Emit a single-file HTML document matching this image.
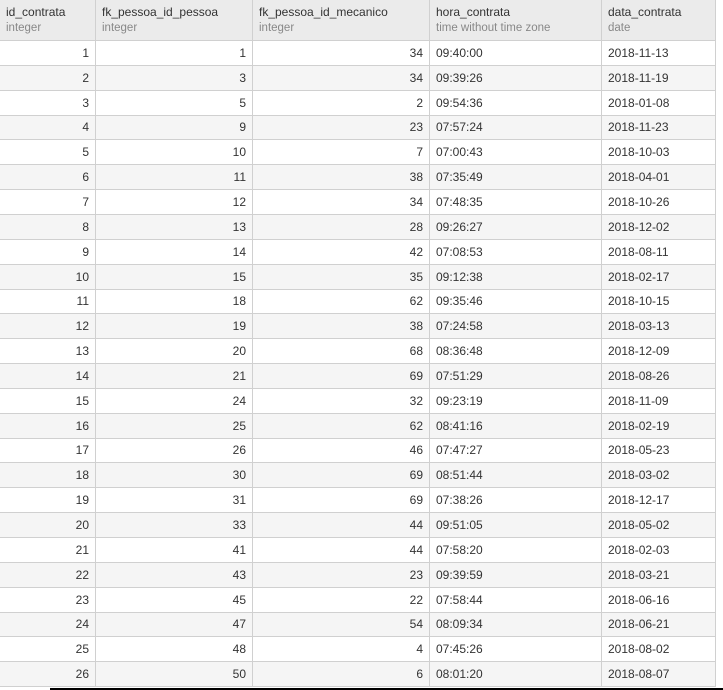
<!DOCTYPE html>
<html><head><meta charset="utf-8"><style>
body{margin:0;width:723px;height:690px;background:#fff;overflow:hidden;position:relative;font-family:"Liberation Sans",sans-serif;font-size:12px;color:#333}
.c{position:absolute;box-sizing:border-box;border-right:1px solid #d0d0d0;border-bottom:1px solid #d0d0d0;white-space:nowrap;overflow:hidden}
.h{background:#ebebeb;padding:4px 6px;line-height:16px;top:0;height:41px}
.h span{display:block;color:#888;font-size:11.5px}
.r{padding:0 6px;line-height:24px}
.num{text-align:right}
</style></head><body>
<script>
const cols=[[0,96,'id_contrata','integer'],[96,253,'fk_pessoa_id_pessoa','integer'],[253,430,'fk_pessoa_id_mecanico','integer'],[430,602,'hora_contrata','time without time zone'],[602,716,'data_contrata','date']];
const rows=[[1,1,34,'09:40:00','2018-11-13'],[2,3,34,'09:39:26','2018-11-19'],[3,5,2,'09:54:36','2018-01-08'],[4,9,23,'07:57:24','2018-11-23'],[5,10,7,'07:00:43','2018-10-03'],[6,11,38,'07:35:49','2018-04-01'],[7,12,34,'07:48:35','2018-10-26'],[8,13,28,'09:26:27','2018-12-02'],[9,14,42,'07:08:53','2018-08-11'],[10,15,35,'09:12:38','2018-02-17'],[11,18,62,'09:35:46','2018-10-15'],[12,19,38,'07:24:58','2018-03-13'],[13,20,68,'08:36:48','2018-12-09'],[14,21,69,'07:51:29','2018-08-26'],[15,24,32,'09:23:19','2018-11-09'],[16,25,62,'08:41:16','2018-02-19'],[17,26,46,'07:47:27','2018-05-23'],[18,30,69,'08:51:44','2018-03-02'],[19,31,69,'07:38:26','2018-12-17'],[20,33,44,'09:51:05','2018-05-02'],[21,41,44,'07:58:20','2018-02-03'],[22,43,23,'09:39:59','2018-03-21'],[23,45,22,'07:58:44','2018-06-16'],[24,47,54,'08:09:34','2018-06-21'],[25,48,4,'07:45:26','2018-08-02'],[26,50,6,'08:01:20','2018-08-07']];
const rowTop=41,rowH=24.85;
cols.forEach((c,j)=>{
  const d=document.createElement('div');
  d.className='c h';
  d.style.left=c[0]+'px';d.style.width=(c[1]-c[0])+'px';
  d.innerHTML=c[2]+'<span>'+c[3]+'</span>';
  
  
  document.body.appendChild(d);
});
rows.forEach((r,i)=>{
  cols.forEach((c,j)=>{
    const d=document.createElement('div');
    d.className='c r'+(j<3?' num':'');
    d.style.left=c[0]+'px';d.style.width=(c[1]-c[0])+'px';
    const t=Math.round(rowTop+i*rowH), b=Math.round(rowTop+(i+1)*rowH);
    d.style.top=t+'px';d.style.height=(b-t)+'px';d.style.lineHeight=(b-t-1)+'px';
    d.style.background=i%2?'#f5f5f5':'#fff';
    d.textContent=r[j];
    
    
    document.body.appendChild(d);
  });
});
const line=document.createElement('div');
line.style.cssText='position:absolute;left:50px;top:688px;width:673px;height:2px;background:#000';


document.body.appendChild(line);
</script>
</body></html>
